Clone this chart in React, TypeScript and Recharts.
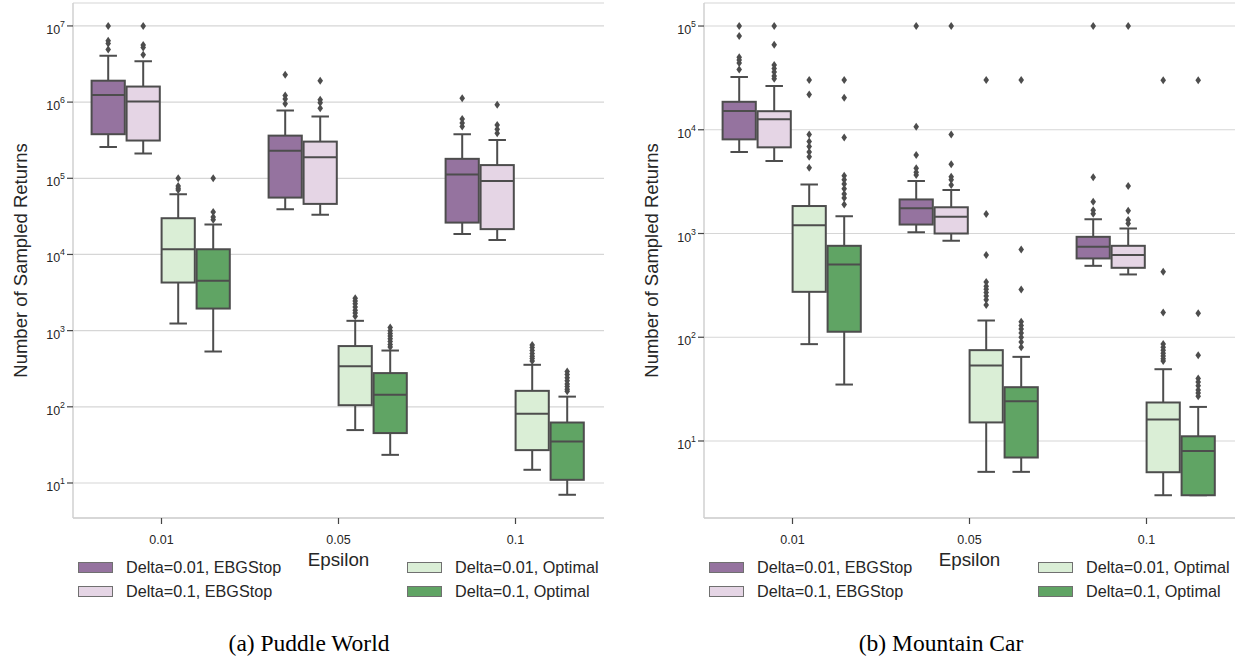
import React from 'react';
import { BarChart, Bar, XAxis, YAxis, CartesianGrid, Legend, Label } from 'recharts';

// ---------- data ----------
const epsilons = ['0.01', '0.05', '0.1'];
const seriesNames = ['Delta=0.01, EBGStop', 'Delta=0.1, EBGStop', 'Delta=0.01, Optimal', 'Delta=0.1, Optimal'];
const seriesColors = ['#95739f', '#e5d5e5', '#daeed6', '#60a464'];

// box stats per epsilon: [low whisker, q1, median, q3, high whisker]
const puddleEbg001 = [[2.58e5, 3.79e5, 1.24e6, 1.91e6, 4.07e6], [3.93e4, 5.58e4, 2.29e5, 3.63e5, 7.74e5], [1.86e4, 2.62e4, 1.12e5, 1.8e5, 3.79e5]];
const puddleEbg01 = [[2.11e5, 3.13e5, 1.02e6, 1.6e6, 3.44e6], [3.31e4, 4.61e4, 1.89e5, 3.03e5, 6.45e5], [1.55e4, 2.15e4, 9.2e4, 1.49e5, 3.19e5]];
const puddleOpt001 = [[1.24e3, 4.28e3, 1.17e4, 2.99e4, 6.18e4], [49.5, 105, 342, 627, 1345], [14.9, 27, 81, 162, 356]];
const puddleOpt01 = [[532, 1.95e3, 4.5e3, 1.17e4, 2.47e4], [23.4, 45.2, 144, 277, 548], [7.0, 11, 35, 62.2, 136]];

const puddleEbg001Out = [[1e7, 6.4e6, 5.9e6, 4.9e6], [2.28e6, 1.22e6, 1.1e6, 9.5e5], [1.12e6, 6.0e5, 5.3e5, 4.77e5]];
const puddleEbg01Out = [[1e7, 5.6e6, 5.2e6, 4.2e6], [1.91e6, 1.07e6, 9.8e5, 8.3e5], [9.2e5, 5.0e5, 4.4e5, 3.9e5]];
const puddleOpt001Out = [[1e5, 7.9e4, 7.4e4, 7.0e4], [2.67e3, 2.45e3, 2.25e3, 2.05e3, 1.85e3, 1.7e3, 1.55e3], [650, 600, 550, 500, 460, 430, 400]];
const puddleOpt01Out = [[1e5, 3.6e4, 3.1e4, 2.85e4], [1.1e3, 1.0e3, 920, 850, 780, 720, 660, 610], [290, 265, 240, 220, 200, 185, 170, 160]];

const carEbg001 = [[6.1e3, 8.08e3, 1.52e4, 1.86e4, 3.22e4], [1.03e3, 1.22e3, 1.75e3, 2.13e3, 3.2e3], [488, 575, 745, 929, 1.37e3]];
const carEbg01 = [[4.99e3, 6.77e3, 1.26e4, 1.51e4, 2.64e4], [851, 1.0e3, 1.45e3, 1.79e3, 2.62e3], [403, 467, 619, 761, 1.12e3]];
const carOpt001 = [[85.8, 274, 1.2e3, 1.84e3, 2.97e3], [5.04, 15.1, 53.5, 75.1, 145], [3.0, 5.0, 16.1, 23.5, 49.2]];
const carOpt01 = [[35, 113, 504, 761, 1.47e3], [5.04, 6.93, 24.2, 33, 64.7], [3.0, 3.0, 8.03, 11.1, 21.3]];

const carEbg001Out = [[1e5, 8e4, 5e4, 4.7e4, 4.4e4, 3.8e4], [1e5, 1.07e4, 5.7e3, 4.25e3, 3.9e3, 3.66e3], [1e5, 3.48e3, 2.02e3, 1.68e3, 1.55e3]];
const carEbg01Out = [[1e5, 6.6e4, 4.2e4, 3.9e4, 3.6e4, 3.3e4, 3.1e4], [1e5, 9.0e3, 4.64e3, 3.52e3, 3.3e3, 2.93e3], [1e5, 2.87e3, 1.66e3, 1.35e3, 1.25e3]];
const carOpt001Out = [[3.02e4, 2.19e4, 9.0e3, 7.7e3, 6.9e3, 6.1e3, 5.5e3, 4.3e3], [3.02e4, 1.54e3, 619, 340, 310, 290, 270, 250, 230, 205], [3e4, 427, 173, 86, 80, 75, 70, 66, 62, 59]];
const carOpt01Out = [[3.02e4, 2.04e4, 8.4e3, 3.6e3, 3.3e3, 3.0e3, 2.7e3, 2.4e3, 2.2e3, 1.9e3], [3.02e4, 703, 289, 141, 130, 120, 110, 100, 90, 80], [3e4, 170, 67, 40, 37, 34, 31, 29, 27]];

const puddleTicks = [10, 1e2, 1e3, 1e4, 1e5, 1e6, 1e7];
const carTicks = [10, 1e2, 1e3, 1e4, 1e5];
const puddleDomain = [3.47, 2.0e7];
const carDomain = [1.81, 1.667e5];

// ---------- helpers ----------
const SANS = '"Liberation Sans", Arial, Helvetica, sans-serif';
const SERIF = '"Liberation Serif", "Times New Roman", serif';
const EDGE = '#4d4d4d';
const TEXT = '#262626';

function buildRows(stats: number[][][], outs: number[][][]) {
  return epsilons.map((eps, i) => {
    const row: any = { eps };
    stats.forEach((s, j) => {
      row['s' + j] = { stats: s[i], out: outs[j][i] };
    });
    return row;
  });
}

const puddleRows = buildRows([puddleEbg001, puddleEbg01, puddleOpt001, puddleOpt01], [puddleEbg001Out, puddleEbg01Out, puddleOpt001Out, puddleOpt01Out]);
const carRows = buildRows([carEbg001, carEbg01, carOpt001, carOpt01], [carEbg001Out, carEbg01Out, carOpt001Out, carOpt01Out]);

function BoxShape(props: any) {
  const { x, y, width, height, fill, payload, sKey } = props;
  const item = payload && payload[sKey];
  if (!item) return null;
  const [lo, q1, med, q3, hi] = item.stats;
  const yTop = Math.min(y, y + height);
  const yBot = Math.max(y, y + height);
  const L = Math.log10;
  const k = (yBot - yTop) / (L(q3) - L(q1));
  const py = (v: number) => yTop + (L(q3) - L(v)) * k;
  const inset = 0.9;
  const bx = x + inset;
  const bw = width - inset * 2;
  const cx = x + width / 2;
  const cap = width * 0.25;
  const sw = 2;
  return (
    <g>
      <line x1={cx} x2={cx} y1={yTop} y2={py(hi)} stroke={EDGE} strokeWidth={sw} />
      <line x1={cx} x2={cx} y1={yBot} y2={py(lo)} stroke={EDGE} strokeWidth={sw} />
      <line x1={cx - cap} x2={cx + cap} y1={py(hi)} y2={py(hi)} stroke={EDGE} strokeWidth={sw} />
      <line x1={cx - cap} x2={cx + cap} y1={py(lo)} y2={py(lo)} stroke={EDGE} strokeWidth={sw} />
      <rect x={bx} y={yTop} width={bw} height={yBot - yTop} fill={fill} stroke={EDGE} strokeWidth={sw} />
      <line x1={bx} x2={bx + bw} y1={py(med)} y2={py(med)} stroke={EDGE} strokeWidth={sw} />
      {item.out.map((v: number, i: number) => {
        const oy = py(v);
        return (
          <polygon
            key={i}
            points={`${cx},${oy - 4} ${cx + 2.8},${oy} ${cx},${oy + 4} ${cx - 2.8},${oy}`}
            fill={EDGE}
          />
        );
      })}
    </g>
  );
}

function LogTick(props: any) {
  const { x, y, payload } = props;
  const e = Math.round(Math.log10(payload.value));
  return (
    <text x={x} y={y + 8} textAnchor="end" fontFamily={SANS} fontSize={12.5} fill={TEXT}>
      <tspan>10</tspan>
      <tspan dy={-7} fontSize={8.8}>{e}</tspan>
    </text>
  );
}

function CatTick(props: any) {
  const { x, y, payload } = props;
  return (
    <text x={x} y={y + 20} textAnchor="middle" fontFamily={SANS} fontSize={12.5} fill={TEXT}>
      {payload.value}
    </text>
  );
}

function makeLegend(plotLeft: number) {
  return (p: any) => {
    const items = (p.payload || []).map((e: any) => ({ name: e.value, color: e.color, i: seriesNames.indexOf(e.value) }));
    return (
      <div style={{ position: 'relative', width: '100%', height: '100%' }}>
        {items.map((it: any) => {
          const col = it.i < 2 ? 0 : 1;
          const rowI = it.i % 2;
          return (
            <div
              key={it.name}
              style={{
                position: 'absolute',
                left: plotLeft + 5 + col * 329,
                top: 557 + rowI * 24,
                height: 20,
                display: 'flex',
                alignItems: 'center',
                whiteSpace: 'nowrap',
              }}
            >
              <span
                style={{
                  display: 'inline-block',
                  width: 33,
                  height: 9,
                  background: it.color,
                  border: '1px solid #707070',
                  marginRight: 13,
                }}
              />
              <span style={{ fontFamily: SANS, fontSize: 16.2, color: TEXT }}>{it.name}</span>
            </div>
          );
        })}
      </div>
    );
  };
}

type PanelProps = {
  rows: any[];
  ticks: number[];
  domain: number[];
  width: number;
  yAxisWidth: number;
  rightMargin: number;
};

function Panel({ rows, ticks, domain, width, yAxisWidth, rightMargin }: PanelProps) {
  const height = 657;
  return (
    <BarChart
      width={width}
      height={height}
      data={rows}
      margin={{ top: 3, right: rightMargin, left: 0, bottom: 99 }}
      barCategoryGap="10%"
      barGap={0}
    >
      <CartesianGrid vertical={false} stroke="#d6d6d6" strokeWidth={1.2} />
      <XAxis
        dataKey="eps"
        height={40}
        tick={<CatTick />}
        tickSize={6}
        tickMargin={0}
        tickLine={{ stroke: '#444', strokeWidth: 1.2 }}
        axisLine={{ stroke: '#d0d0d0', strokeWidth: 1.5 }}
      >
        <Label
          content={(lp: any) => {
            const vb = lp.viewBox;
            return (
              <text x={vb.x + vb.width / 2} y={vb.y + 48} textAnchor="middle" fontFamily={SANS} fontSize={18.8} fill={TEXT}>
                Epsilon
              </text>
            );
          }}
        />
      </XAxis>
      <XAxis xAxisId="top" orientation="top" dataKey="eps" height={0} tick={false} tickLine={false} axisLine={{ stroke: '#d0d0d0', strokeWidth: 1.5 }} />
      <YAxis
        scale="log"
        type="number"
        domain={domain}
        allowDataOverflow
        ticks={ticks}
        interval={0}
        width={yAxisWidth}
        tick={<LogTick />}
        tickSize={6}
        tickMargin={2}
        tickLine={{ stroke: '#444', strokeWidth: 1.2 }}
        axisLine={{ stroke: '#d0d0d0', strokeWidth: 1.5 }}
      >
        <Label
          content={(lp: any) => {
            const vb = lp.viewBox;
            const cx = vb.x + vb.width - 53;
            const cy = vb.y + vb.height / 2;
            return (
              <text
                x={cx}
                y={cy}
                textAnchor="middle"
                dominantBaseline="central"
                transform={`rotate(-90, ${cx}, ${cy})`}
                fontFamily={SANS}
                fontSize={18.5}
                fill={TEXT}
              >
                Number of Sampled Returns
              </text>
            );
          }}
        />
      </YAxis>
      <YAxis yAxisId="right" orientation="right" type="number" domain={[0, 1]} width={0} tick={false} tickLine={false} axisLine={{ stroke: '#d0d0d0', strokeWidth: 1.5 }} />
      {seriesNames.map((name, j) => (
        <Bar
          key={name}
          name={name}
          dataKey={(r: any) => [r['s' + j].stats[1], r['s' + j].stats[3]]}
          fill={seriesColors[j]}
          isAnimationActive={false}
          shape={(p: any) => <BoxShape {...p} sKey={'s' + j} />}
        />
      ))}
      <Legend
        layout="horizontal"
        verticalAlign="middle"
        content={makeLegend(yAxisWidth)}
        wrapperStyle={{ position: 'absolute', left: 0, top: 0, width: width, height: height, pointerEvents: 'none' }}
      />
    </BarChart>
  );
}

export default function App() {
  return (
    <div style={{ position: 'absolute', left: 0, top: 0, width: 1238, height: 657, background: '#fff', overflow: 'hidden' }}>
      <div style={{ position: 'absolute', left: 0, top: 0 }}>
        <Panel rows={puddleRows} ticks={puddleTicks} domain={puddleDomain} width={620} yAxisWidth={73} rightMargin={16} />
      </div>
      <div style={{ position: 'absolute', left: 620, top: 0 }}>
        <Panel rows={carRows} ticks={carTicks} domain={carDomain} width={618} yAxisWidth={84} rightMargin={3} />
      </div>
      <div style={{ position: 'absolute', left: 109, width: 400, top: 629, textAlign: 'center', fontFamily: SERIF, fontSize: 23.5, lineHeight: '28px', color: '#000' }}>
        (a) Puddle World
      </div>
      <div style={{ position: 'absolute', left: 741, width: 400, top: 629, textAlign: 'center', fontFamily: SERIF, fontSize: 23.5, lineHeight: '28px', color: '#000' }}>
        (b) Mountain Car
      </div>
    </div>
  );
}
